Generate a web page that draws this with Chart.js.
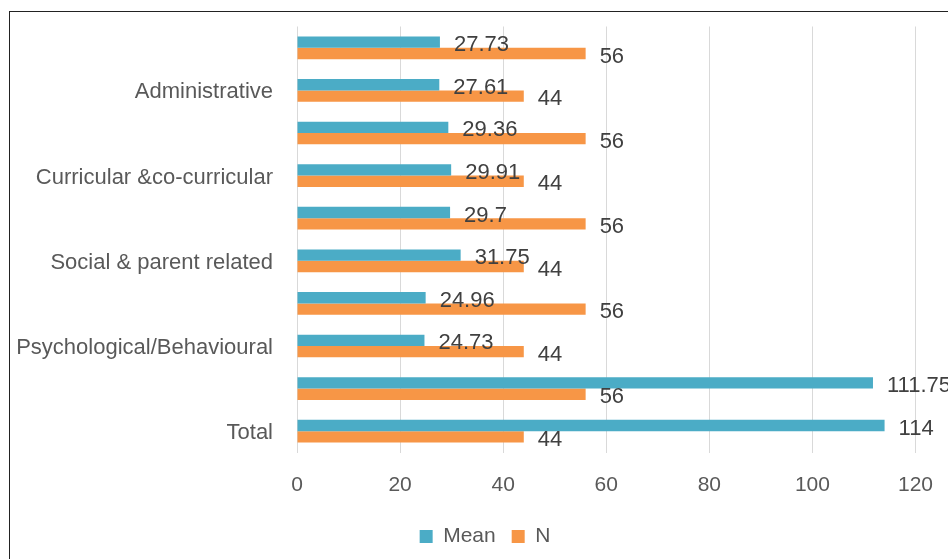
<!DOCTYPE html>
<html>
<head>
<meta charset="utf-8">
<script src="https://cdn.jsdelivr.net/npm/chart.js@4.4.1/dist/chart.umd.min.js"></script>
<style>
	html,
	body {
		margin: 0;
		padding: 0;
		overflow: hidden;
		background: #fff;
	}
	.frame {
		position: absolute;
		left: 9px;
		top: 11px;
		border: 1px solid #222;
		background: #fff;
	}
	.box {
		position: relative;
		width: 950px;
		height: 560px;
	}
</style>
</head>
<body>
<div class="frame">
	<div class="box"><canvas id="chart"></canvas></div>
</div>
<script>
// rows top to bottom, labels only on every second row
const categories = [
	'',
	'Administrative',
	'',
	'Curricular &co-curricular',
	'',
	'Social & parent related',
	'',
	'Psychological/Behavioural',
	'',
	'Total',
];
const meanValues = [27.73, 27.61, 29.36, 29.91, 29.7, 31.75, 24.96, 24.73, 111.75, 114];
const nValues = [56, 44, 56, 44, 56, 44, 56, 44, 56, 44];
const seriesNames = ['Mean', 'N'];
const xMin = 0;
const xMax = 120;
const xStep = 20;

const data = {
	labels: categories,
	datasets: [
		{
			label: seriesNames[0],
			data: meanValues,
			backgroundColor: '#4BACC6',
			borderWidth: 0,
		},
		{
			label: seriesNames[1],
			data: nValues,
			backgroundColor: '#F79646',
			borderWidth: 0,
		},
	],
};

// value labels right of each bar
const barValues = {
	id: 'barValues',
	afterDatasetsDraw(chart) {
		const { ctx } = chart;
		ctx.save();
		ctx.font = '22px "Liberation Sans"';
		ctx.fillStyle = '#404040';
		ctx.textAlign = 'left';
		ctx.textBaseline = 'middle';
		chart.data.datasets.forEach((ds, i) => {
			chart.getDatasetMeta(i).data.forEach((bar, j) => {
				ctx.fillText(String(ds.data[j]), bar.x + 14, bar.y + 3);
			});
		});
		ctx.restore();
	},
};

const config = {
	type: 'bar',
	data,
	options: {
		indexAxis: 'y',
		responsive: true,
		maintainAspectRatio: false,
		animation: false,
		categoryPercentage: 0.532,
		barPercentage: 1,
		layout: {
			padding: { top: 14.5, bottom: 15, left: 0, right: 0 },
		},
		scales: {
			x: {
				min: xMin,
				max: xMax,
				ticks: {
					stepSize: xStep,
					color: '#595959',
					font: { family: 'Liberation Sans', size: 21 },
					padding: 20,
				},
				grid: {
					color: '#d9d9d9',
					lineWidth: 1,
					drawTicks: false,
				},
				border: { display: false },
				afterFit: scale => {
					scale.height = 57.5;
					scale.paddingRight = 44.5;
				},
			},
			y: {
				ticks: {
					autoSkip: false,
					color: '#595959',
					font: { family: 'Liberation Sans', size: 22 },
					padding: 24,
					labelOffset: 2,
				},
				grid: { display: false, drawTicks: false },
				border: { display: false },
				afterFit: scale => {
					scale.width = 287;
					scale.paddingTop = 0;
					scale.paddingBottom = 0;
				},
			},
		},
		plugins: {
			legend: {
				position: 'bottom',
				labels: {
					boxWidth: 13,
					boxHeight: 13,
					padding: 16,
					color: '#595959',
					font: { family: 'Liberation Sans', size: 21 },
				},
			},
			tooltip: { enabled: false },
		},
	},
	plugins: [barValues],
};

const myChart = new Chart(document.getElementById('chart'), config);
</script>
</body>
</html>
